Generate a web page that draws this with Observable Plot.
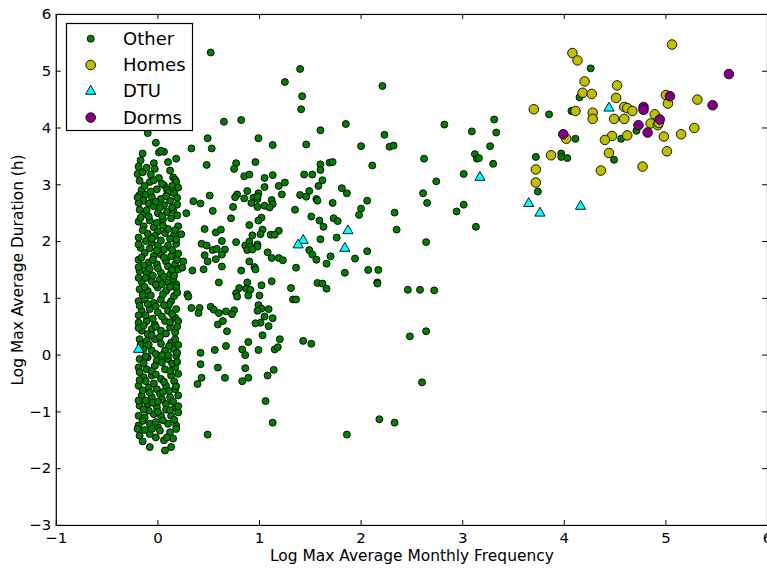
<!DOCTYPE html>
<html><head><meta charset="utf-8">
<script src="https://cdn.jsdelivr.net/npm/d3@7"></script>
<script src="https://cdn.jsdelivr.net/npm/@observablehq/plot@0.6"></script>
<style>
html,body{margin:0;padding:0;overflow:hidden;background:#fff;}
#wrap{position:relative;width:767px;height:568px;overflow:hidden;}
#wrap svg.legend{position:absolute;left:0;top:0;pointer-events:none;}
</style></head><body><div id="wrap"></div>
<script>
const seriesNames = ["Other", "Homes", "DTU", "Dorms"];
const xTicks = [-1, 0, 1, 2, 3, 4, 5, 6];
const yTicks = [-3, -2, -1, 0, 1, 2, 3, 4, 5, 6];
const xLabel = "Log Max Average Monthly Frequency";
const yLabel = "Log Max Average Duration (h)";

// "Other" points in the dense column around x = 0
const otherColumn = [
[-0.10,3.91],[-0.02,3.74],[0.01,3.57],[0.06,3.58],[0.03,3.60],[-0.17,3.43],[0.18,3.46],[-0.04,3.38],[-0.03,3.28],[-0.20,3.19],[-0.15,3.22],[-0.18,3.07],[-0.08,3.05],[0.01,3.12],[0.15,3.13],[0.17,3.09],[0.18,3.05],[0.14,2.98],[0.06,2.99],[0.09,2.91],[0.10,2.86],[-0.16,2.91],[-0.18,2.82],[-0.12,2.83],[-0.06,2.79],[-0.01,2.92],[0.16,2.85],[0.19,2.77],[0.03,2.75],[0.06,2.64],[-0.14,2.72],[-0.09,2.67],[-0.04,2.62],[-0.18,2.56],[-0.13,2.49],[0.00,2.50],[0.09,2.52],[0.13,2.41],[0.05,2.39],[-0.19,2.35],[-0.14,2.27],[-0.08,2.37],[-0.04,2.25],[0.00,2.18],[0.07,2.15],[0.16,2.12],[0.20,2.27],[-0.19,2.07],[-0.12,2.01],[-0.06,1.98],[-0.17,1.89],[0.00,1.93],[0.10,1.93],[0.18,1.96],[-0.13,1.80],[-0.04,1.75],[0.03,1.77],[0.13,1.74],[0.20,1.79],[-0.19,1.68],[-0.09,1.63],[-0.01,1.60],[0.08,1.65],[0.17,1.60],[-0.18,1.48],[-0.11,1.45],[0.03,1.45],[0.12,1.42],[0.20,1.51],[-0.16,1.29],[-0.06,1.30],[0.02,1.33],[0.10,1.28],[0.18,1.25],
[-0.18,1.16],[-0.10,1.13],[0.00,1.19],[0.08,1.13],[0.18,1.19],[-0.19,0.95],[-0.13,0.98],[-0.04,0.92],[0.03,0.98],[0.13,0.95],[-0.16,0.78],[-0.08,0.81],[0.00,0.75],[0.10,0.78],[0.18,0.81],[-0.19,0.57],[-0.11,0.60],[-0.03,0.54],[0.07,0.60],[0.17,0.66],[-0.16,0.43],[-0.06,0.46],[0.03,0.43],[0.12,0.49],[-0.18,0.28],[-0.11,0.25],[-0.03,0.28],[0.02,0.32],[0.13,0.22],[0.17,0.28],[-0.14,0.11],[-0.06,0.08],[0.07,0.08],[0.15,0.11],[-0.18,-0.07],[-0.10,-0.04],[-0.01,-0.10],[0.10,-0.07],[0.18,-0.01],[-0.19,-0.22],[-0.11,-0.25],[-0.03,-0.19],[0.07,-0.25],[0.17,-0.22],[-0.14,-0.39],[-0.06,-0.36],[0.03,-0.42],[0.13,-0.36],[0.20,-0.33],[-0.19,-0.54],[-0.09,-0.57],[-0.01,-0.60],[0.08,-0.54],[0.17,-0.60],[-0.16,-0.71],[-0.06,-0.74],[0.02,-0.68],[0.12,-0.74],[0.20,-0.71],[-0.18,-0.89],[-0.10,-0.86],[-0.01,-0.92],[0.08,-0.86],[0.17,-0.92],[-0.19,-1.07],[-0.13,-1.10],[-0.04,-1.04],[0.03,-1.07],[0.13,-1.07],[0.20,-1.01],[-0.19,-1.24],[-0.08,-1.21],[0.00,-1.27],[0.10,-1.21],[0.18,-1.24],[-0.18,-1.42],[-0.08,-1.39],[0.02,-1.33],[0.12,-1.36],[0.15,-1.47],[-0.08,-1.62],[0.07,-1.68],[0.13,-1.62],
[-0.11,3.30],[0.12,3.25],[-0.19,3.32],[-0.13,2.98],[0.04,3.02],[-0.04,3.08],[0.12,2.72],[-0.02,2.70],[0.19,2.65],[-0.19,2.68],[0.08,2.80],[-0.07,2.88],[-0.09,2.44],[0.15,2.55],[0.02,2.60],[-0.17,2.42],[0.19,2.46],[-0.01,2.33],[-0.10,2.14],[0.10,2.22],[-0.15,2.20],[0.05,2.28],[0.17,2.20],[-0.03,2.10],[-0.08,1.88],[0.06,1.86],[0.14,1.85],[-0.19,1.95],[0.03,2.02],[0.18,2.04],[-0.01,1.84],[-0.14,1.58],[0.00,1.53],[0.10,1.56],[0.19,1.68],[-0.05,1.68],[0.14,1.50],[-0.19,1.55],[-0.12,1.36],[0.06,1.38],[0.15,1.34],[-0.02,1.24],[-0.19,1.36],[0.12,1.20],[-0.07,1.05],[0.05,1.07],[0.16,1.04],[-0.15,1.06],[0.11,0.89],[-0.02,0.86],[-0.18,0.87],[-0.12,0.70],[0.04,0.68],[0.14,0.72],[-0.05,0.64],[0.20,0.60],[-0.19,0.70],[-0.10,0.37],[0.08,0.38],[-0.02,0.50],[0.17,0.40],[-0.19,0.48],[0.19,0.50],[-0.09,0.18],[0.03,0.20],[0.11,0.16],[-0.02,0.02],[0.19,0.04],[0.10,0.00],[-0.14,-0.14],[0.04,-0.13],[0.14,-0.15],[-0.06,-0.28],[0.19,-0.12],[-0.18,-0.30],[-0.12,-0.46],[0.06,-0.47],[0.16,-0.46],[-0.04,-0.50],[-0.18,-0.44],[0.11,-0.63],[-0.12,-0.80],[0.04,-0.78],[0.15,-0.82],[-0.05,-0.84],[-0.19,-0.80],[0.20,-0.90],[-0.09,-0.98],[0.08,-0.96],[-0.15,-1.16],[0.05,-1.15],[0.16,-1.14],[-0.02,-1.18],[-0.13,-1.32],[-0.02,-1.45],[0.06,-1.50],[0.18,-1.30],[-0.20,-1.30],
[-0.15,3.55],[0.10,3.40],[-0.07,3.18],[0.20,2.95],[-0.20,2.78],[0.14,2.60],[-0.11,2.55],[0.04,2.45],[-0.06,2.05],[0.12,2.05],[-0.16,1.72],[0.06,1.72],[-0.08,1.52],[0.16,1.40],[-0.05,1.40],[0.04,1.25],[-0.13,1.20],[0.19,1.10],[-0.10,0.90],[0.06,0.88],[-0.14,0.52],[0.12,0.58],[-0.06,0.35],[0.20,0.18],[-0.17,0.18],[0.04,0.00],[-0.12,-0.02],[0.12,-0.28],[-0.02,-0.34],[-0.15,-0.62],[0.05,-0.65],[0.18,-0.55],[-0.08,-0.66],[0.00,-0.82],[-0.14,-0.96],[0.12,-0.97],[0.00,-1.00],[-0.06,-1.30],[0.09,-1.45],[-0.15,-1.52]
];

// "Other" points spread to the right of the column
const otherSpread = [
[1.41,4.33],[0.65,4.11],[0.82,4.14],[1.60,3.96],[0.49,3.82],[0.99,3.82],[1.13,3.70],[1.46,3.71],[0.33,3.64],[0.53,3.64],[0.48,3.35],[0.77,3.38],[0.75,3.28],[0.96,3.40],[1.60,3.36],[1.60,3.26],[1.69,3.39],[1.72,3.40],[0.85,3.15],[0.90,3.18],[1.05,3.12],[1.13,3.17],[1.44,3.18],[1.52,3.18],[1.62,3.08],[1.58,2.98],[1.25,3.04],[1.19,2.98],[1.05,2.96],[0.88,2.89],[0.99,2.85],[1.22,2.83],[1.49,2.89],[1.40,2.82],[1.46,2.79],[1.56,2.75],[1.57,2.72],[0.51,2.81],[0.78,2.83],[0.76,2.78],[0.85,2.76],[0.94,2.77],[0.98,2.75],[0.98,2.79],[0.35,2.71],[0.42,2.67],[0.92,2.68],[1.12,2.73],[1.13,2.66],[1.05,2.63],[1.10,2.60],[0.98,2.61],[0.74,2.61],[0.28,2.50],[0.54,2.54],[1.35,2.56],[1.72,2.68],[0.72,2.41],[1.02,2.42],[0.99,2.37],[1.51,2.44],[1.59,2.37],[1.63,2.26],[1.73,2.41],[1.77,2.36],[0.90,2.29],[0.46,2.22],[0.57,2.16],[0.62,2.21],[1.03,2.21],[1.01,2.13],[1.19,2.19],[1.11,2.12],[1.15,2.12],[0.23,2.13],[0.93,2.11],[0.63,2.01],[0.77,1.99],[1.60,2.04],[1.76,2.07],[0.43,1.96],[0.48,1.93],[0.54,1.85],[0.58,1.87],[0.66,1.86],[0.86,1.93],[0.90,2.00],[0.91,1.91],[0.98,1.95],[0.98,1.91],[0.88,1.85],[0.93,1.86],[0.46,1.76],[0.63,1.77],[1.08,1.81],[1.49,1.85],[1.52,1.77],[1.70,1.74],
[0.25,1.65],[0.24,1.54],[0.49,1.65],[0.57,1.69],[0.63,1.56],[0.34,1.49],[0.45,1.51],[0.82,1.49],[0.90,1.65],[0.95,1.55],[0.96,1.51],[1.12,1.71],[1.19,1.71],[1.23,1.67],[1.36,1.54],[1.56,1.68],[1.66,1.61],[0.60,1.28],[0.80,1.18],[0.77,1.09],[0.78,1.03],[0.88,1.28],[0.87,1.17],[0.91,1.15],[0.89,1.05],[1.02,1.23],[1.00,1.05],[1.12,1.30],[1.31,1.18],[1.33,0.98],[1.36,0.98],[1.57,1.27],[1.62,1.26],[1.66,1.17],[0.29,1.07],[0.30,1.03],[0.33,0.83],[0.41,0.83],[0.40,0.74],[0.52,0.85],[0.55,0.80],[0.60,0.74],[0.67,0.77],[0.75,0.79],[0.73,0.72],[0.99,0.88],[1.02,0.82],[0.98,0.78],[1.09,0.81],[1.05,0.68],[1.13,0.65],[1.01,0.57],[0.96,0.56],[1.09,0.51],[0.59,0.54],[0.64,0.60],[0.68,0.42],[1.03,0.35],[1.20,0.28],[1.43,0.25],[1.51,0.20],[0.67,0.16],[0.56,0.09],[0.42,0.04],[0.89,0.23],[0.83,0.10],[0.86,0.00],[0.99,0.09],[1.15,0.10],[1.18,0.14],[0.42,-0.16],[0.59,-0.22],[0.86,-0.23],[1.14,-0.26],[1.08,-0.36],[0.43,-0.40],[0.39,-0.51],[0.66,-0.40],[0.83,-0.46],[0.89,-0.40],[1.06,-0.81],[1.13,-1.19],[0.49,-1.40],
[1.85,4.07],[2.23,3.88],[2.00,3.68],[2.28,3.67],[2.32,3.69],[2.82,4.06],[3.09,3.94],[3.31,4.15],[3.33,3.92],[3.27,3.68],[3.12,3.54],[3.14,3.46],[3.16,3.47],[3.30,3.37],[2.11,3.34],[2.62,3.46],[3.01,3.19],[2.74,3.06],[1.81,2.94],[1.86,2.85],[2.06,2.72],[2.00,2.58],[1.98,2.47],[2.33,2.51],[2.61,2.85],[2.65,2.68],[3.01,2.65],[2.94,2.53],[2.35,2.21],[2.64,1.99],[3.13,2.26],[2.06,1.83],[1.94,1.70],
[1.84,1.45],[2.07,1.50],[2.17,1.50],[2.16,1.28],[2.16,1.26],[2.46,1.15],[2.58,1.15],[2.72,1.14],[2.48,0.33],[2.64,0.42],[2.60,-0.48],[2.18,-1.13],[2.33,-1.19],[1.86,-1.40],
[0.52,5.33],[1.40,5.04],[1.25,4.81],[1.42,4.56],[2.21,4.74],
[4.26,5.05],[4.15,4.54],[3.85,4.24],[4.07,4.30],[4.11,3.81],[4.56,3.81],[4.71,3.95],[3.72,3.49],[3.74,2.88],[3.97,3.55],[3.97,3.49],[4.03,3.47],[4.49,3.44]
];

const homesPts = [
[5.06,5.47],[4.08,5.32],[4.13,5.19],[4.20,4.82],[4.18,4.62],[4.27,4.60],[4.52,4.75],[4.51,4.53],[3.70,4.33],[4.11,4.30],[4.28,4.27],[4.28,4.16],[4.59,4.37],[4.62,4.35],[4.67,4.30],[4.49,4.16],[4.59,4.16],[4.89,4.24],[4.85,4.08],[4.92,4.05],[4.93,4.09],[5.00,4.58],[5.02,4.43],[5.31,4.50],[5.28,4.00],[5.15,3.89],[4.98,3.85],[5.01,3.59],[4.47,3.86],[4.40,3.79],[4.62,3.87],[4.02,3.81],[4.44,3.56],[3.87,3.52],[4.36,3.25],[4.77,3.32],[3.72,3.27],[3.72,3.04]
];

const dtuPts = [
[-0.19,0.10],[1.43,2.02],[1.38,1.94],[1.87,2.19],[1.84,1.88],[3.17,3.13],[3.65,2.67],[3.76,2.50],[4.16,2.62],[4.44,4.35]
];

const dormsPts = [
[5.62,4.95],[5.04,4.56],[5.46,4.40],[4.78,4.37],[4.78,4.32],[4.94,4.15],[4.73,4.05],[4.82,3.92],[3.99,3.89]
];

const seriesStyle = {
  Other: {fill: "#008000", r: 3.5, symbol: "circle"},
  Homes: {fill: "#bfbf00", r: 4.8, symbol: "circle"},
  DTU: {fill: "#00ffff", r: 3.8, symbol: "triangle"},
  Dorms: {fill: "#800080", r: 4.8, symbol: "circle"}
};

const fmt = d => d < 0 ? "\u2212" + Math.abs(d) : String(d);
const W = 770, H = 568, mL = 56, mR = 0, mT = 14, mB = 41;
const frameW = W - mL - mR, frameH = H - mT - mB, tl = 5;
const px = d => d[0], py = d => d[1];
const dotOpts = (name) => ({x: px, y: py, r: seriesStyle[name].r, fill: seriesStyle[name].fill,
  symbol: seriesStyle[name].symbol, stroke: "black", strokeWidth: 0.9});

const chart = Plot.plot({
  width: W, height: H, marginLeft: mL, marginRight: mR, marginTop: mT, marginBottom: mB,
  x: {domain: [-1, 6]}, y: {domain: [-3, 6]},
  style: {fontFamily: "DejaVu Sans", fontSize: "15px", color: "black", background: "white"},
  marks: [
    Plot.dot(otherColumn.concat(otherSpread), dotOpts("Other")),
    Plot.dot(homesPts, dotOpts("Homes")),
    Plot.dot(dtuPts, dotOpts("DTU")),
    Plot.dot(dormsPts, dotOpts("Dorms")),
    Plot.tickX(xTicks, {x: d => d, insetTop: frameH - tl, stroke: "black"}),
    Plot.tickX(xTicks, {x: d => d, insetBottom: frameH - tl, stroke: "black"}),
    Plot.tickY(yTicks, {y: d => d, insetRight: frameW - tl, stroke: "black"}),
    Plot.tickY(yTicks, {y: d => d, insetLeft: frameW - tl, stroke: "black"}),
    Plot.frame({stroke: "black", strokeWidth: 1.2}),
    Plot.axisX({ticks: xTicks, tickSize: 0, tickPadding: 7, tickFormat: fmt, label: null, fontSize: 15}),
    Plot.axisY({ticks: yTicks, tickSize: 0, tickPadding: 5, tickFormat: fmt, label: null, fontSize: 15}),
    Plot.text([xLabel], {frameAnchor: "bottom", dy: 36, text: d => d, fontSize: 15.5}),
    Plot.text([yLabel], {frameAnchor: "left", textAnchor: "middle", lineAnchor: "middle", rotate: -90, dx: -38, text: d => d, fontSize: 15.5})
  ]
});
const wrap = document.getElementById("wrap");
wrap.appendChild(chart);

// legend box overlay
const lg = d3.select(wrap).append("svg").attr("class", "legend").attr("width", 767).attr("height", 568);
lg.append("rect").attr("x", 66.5).attr("y", 23.5).attr("width", 126).attr("height", 107)
  .attr("fill", "white").attr("stroke", "black").attr("stroke-width", 1.2);
seriesNames.forEach((name, i) => {
  const cy = 38.7 + i * 26.3, st = seriesStyle[name];
  const sym = st.symbol === "triangle" ? d3.symbolTriangle : d3.symbolCircle;
  lg.append("path").attr("d", d3.symbol(sym, Math.PI * st.r * st.r)())
    .attr("transform", `translate(90.7,${cy})`)
    .attr("fill", st.fill).attr("stroke", "black").attr("stroke-width", 0.9);
  lg.append("text").attr("x", 123).attr("y", cy + 6).attr("font-family", "DejaVu Sans")
    .attr("font-size", 18).attr("fill", "black").text(name);
});
</script></body></html>
